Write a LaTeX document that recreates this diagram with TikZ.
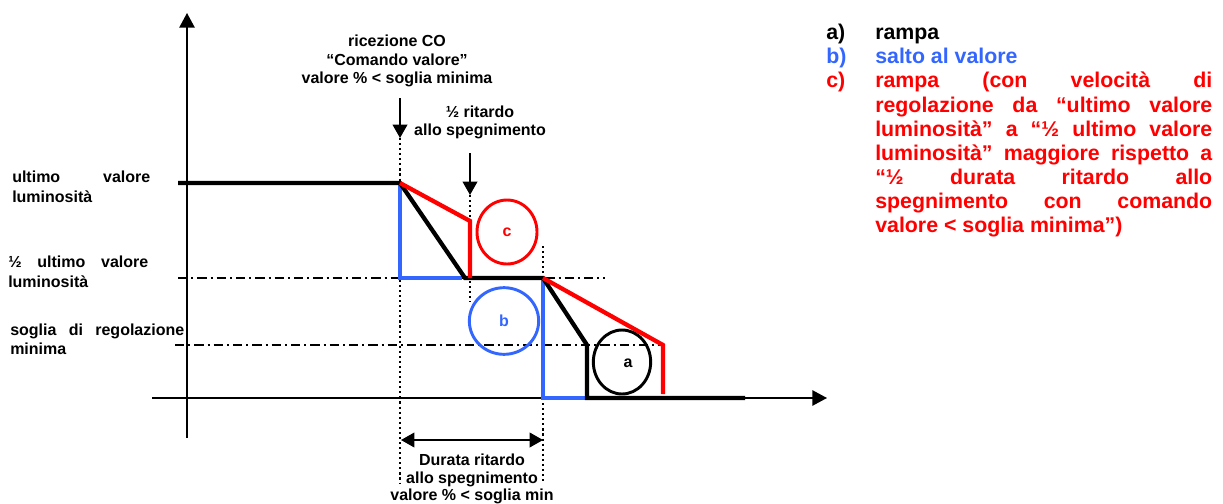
\documentclass[tikz,border=0pt]{standalone}
\usepackage{fontspec}
\setmainfont{Liberation Sans}
\usetikzlibrary{arrows.meta,shapes.geometric}
\definecolor{myblue}{RGB}{51,102,255}
\definecolor{myred}{RGB}{255,0,0}
\begin{document}
\begin{tikzpicture}[x=0.75pt,y=-0.75pt,
  lbl/.style={font=\fontsize{12}{14}\selectfont\bfseries, inner sep=0pt, anchor=base},
  lblw/.style={font=\fontsize{12}{14}\selectfont\bfseries, inner sep=0pt, anchor=base west},
  leg/.style={font=\fontsize{16}{18}\selectfont\bfseries, inner sep=0pt, anchor=base west},
  axis/.style={line width=1.2pt, -{Triangle[width=11.5pt,length=11pt]}},
  downarrow/.style={line width=1.2pt, -{Triangle[width=11pt,length=10pt]}},
  dblarrow/.style={line width=1.2pt, {Triangle[width=11pt,length=10pt]}-{Triangle[width=11pt,length=10pt]}},
  dotline/.style={line width=1.6pt, dash pattern=on 1.6pt off 2.2pt},
  dashdot/.style={line width=0.8pt, dash pattern=on 7pt off 3pt on 1.5pt off 3pt},
  thick line/.style={line width=3.2pt, line join=miter},
  ring/.style={ellipse, draw, line width=2.2pt, inner sep=0pt, font=\fontsize{12}{14}\selectfont\bfseries}
]
\useasboundingbox (0,0) rectangle (1223,503);

% coordinates
\coordinate (yb) at (187,438);
\coordinate (yt) at (187,13);
\coordinate (xl) at (152,398);
\coordinate (xr) at (827,398);
\coordinate (top0) at (178,183);
\coordinate (P0) at (400,183);
\coordinate (Pb1) at (400,278);
\coordinate (Pb2) at (462,278);
\coordinate (Pk1) at (465,278);
\coordinate (P1) at (543,278);
\coordinate (Pk2) at (587,345);
\coordinate (Pk3) at (587,398);
\coordinate (Pk4) at (745,398);
\coordinate (Pb3) at (543,398);
\coordinate (Pb4) at (585,398);
\coordinate (Pr1) at (470,221);
\coordinate (Pr2) at (470,278);
\coordinate (Pr3) at (663,345);
\coordinate (Pr4) at (663,394);
\coordinate (hl) at (178,278);
\coordinate (hr) at (605,278);
\coordinate (ml) at (175,345);
\coordinate (mr) at (665,345);

% axes
\draw[axis] (yb) -- (yt);
\draw[axis] (xl) -- (xr);

% reference dash-dot levels
\draw[dashdot] (hl) -- (hr);
\draw[dashdot] (ml) -- (mr);

% arrows and dotted markers
\coordinate (a1s) at (400,98);
\coordinate (a1e) at (400,138);
\coordinate (d1b) at (400,484);
\draw[downarrow] (a1s) -- (a1e);
\draw[dotline] (a1e) -- (d1b);

\coordinate (a2s) at (470,153);
\coordinate (a2e) at (470,195);
\coordinate (d2b) at (470,302);
\draw[downarrow] (a2s) -- (a2e);
\draw[dotline] (a2e) -- (d2b);

\coordinate (d3t) at (543,246);
\coordinate (d3b) at (543,484);
\draw[dotline] (d3t) -- (d3b);

\coordinate (da) at (401,440);
\coordinate (db) at (543,440);
\draw[dblarrow] (da) -- (db);

% curves
\draw[thick line, myblue] (P0) -- (Pb1) -- (Pb2);
\draw[thick line, myblue] (P1) -- (Pb3) -- (Pb4);
\draw[thick line, black] (top0) -- (P0) -- (Pk1) -- (P1) -- (Pk2) -- (Pk3) -- (Pk4);
\draw[thick line, myred] (P0) -- (Pr1) -- (Pr2);
\draw[thick line, myred] (P1) -- (Pr3) -- (Pr4);

% rings
\node[ring, myred, minimum width=45pt, minimum height=48pt] (rc) at (507,232) {c};
\node[ring, myblue, minimum width=52pt, minimum height=50pt] (rb) at (504,321) {b};
\node[ring, black, minimum width=43pt, minimum height=48pt] (ra) at (622,362) {};
\node[lbl, anchor=center] (ral) at (628,363) {a};

% top labels
\node[lbl] (t1) at (397,47) {ricezione CO};
\node[lbl] (t2) at (397,65) {“Comando valore”};
\node[lbl] (t3) at (397,84) {valore \% < soglia minima};
\node[lbl] (t4) at (480,117) {½ ritardo};
\node[lbl] (t5) at (480,135) {allo spegnimento};

% bottom labels
\node[lbl] (b1) at (472,465) {Durata ritardo};
\node[lbl] (b2) at (472,483) {allo spegnimento};
\node[lbl] (b3) at (472,500) {valore \% < soglia min};

% left labels
\node[lblw] (l1) at (12,182) {\makebox[103.5pt][s]{ultimo valore}};
\node[lblw] (l2) at (12,202) {luminosità};
\node[lblw] (l3) at (8,267) {\makebox[105pt][s]{½ ultimo valore}};
\node[lblw] (l4) at (8,287) {luminosità};
\node[lblw] (l5) at (10,335) {\makebox[130.5pt][s]{soglia di regolazione}};
\node[lblw] (l6) at (10,354) {minima};

% legend
\node[leg] (ga) at (826,40) {a)};
\node[leg] (gat) at (875,40) {rampa};
\node[leg, myblue] (gb) at (826,64) {b)};
\node[leg, myblue] (gbt) at (875,64) {salto al valore};
\node[leg, myred] (gc) at (826,88) {c)};
\node[leg, myred] (gc1) at (875,88) {\makebox[252.75pt][s]{rampa (con velocità di}};
\node[leg, myred] (gc2) at (875,112) {\makebox[252.75pt][s]{regolazione da “ultimo valore}};
\node[leg, myred] (gc3) at (875,136) {\makebox[252.75pt][s]{luminosità” a “½ ultimo valore}};
\node[leg, myred] (gc4) at (875,160) {\makebox[252.75pt][s]{luminosità” maggiore rispetto a}};
\node[leg, myred] (gc5) at (875,184) {\makebox[252.75pt][s]{“½ durata ritardo allo}};
\node[leg, myred] (gc6) at (875,208) {\makebox[252.75pt][s]{spegnimento con comando}};
\node[leg, myred] (gc7) at (875,232) {valore < soglia minima”)};
\end{tikzpicture}
\end{document}
